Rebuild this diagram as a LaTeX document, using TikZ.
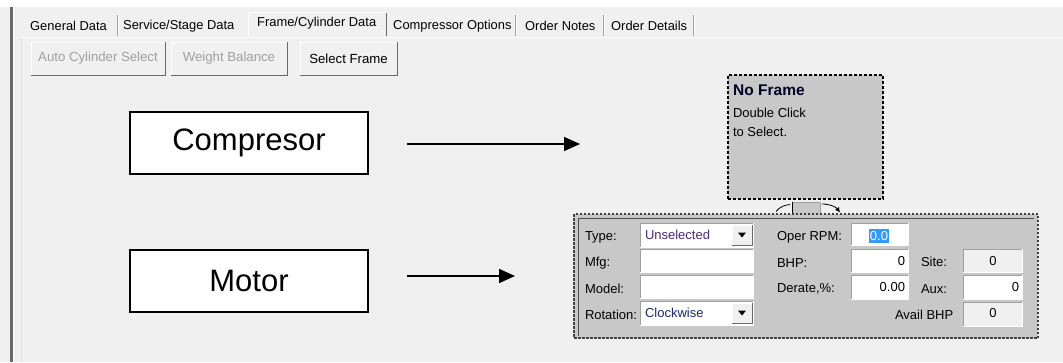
\documentclass[tikz,border=0pt]{standalone}
\usepackage{fontspec}
\setmainfont{Liberation Sans}
\usetikzlibrary{arrows.meta}
\definecolor{bg}{HTML}{F0F0F0}
\definecolor{panelc}{HTML}{C8C8C8}
\definecolor{shadec}{HTML}{A0A0A0}
\definecolor{dkshade}{HTML}{696969}
\definecolor{hilite}{HTML}{3399FF}
\definecolor{distext}{HTML}{A0A0A0}
\definecolor{selpurple}{HTML}{4A2A7A}
\definecolor{selnavy}{HTML}{1A2A6A}
\newcommand\sunk[1]{\draw[shadec] (#1.south west) |- (#1.north east); \draw[white] (#1.south west) -| (#1.north east);}
\newcommand\rais[1]{\draw[white] (#1.south west) |- (#1.north east); \draw[dkshade] (#1.south west) -| (#1.north east);}
\tikzset{
  ui/.style={font=\fontsize{13}{15}\selectfont, inner sep=0pt, outer sep=0pt},
  uil/.style={ui, anchor=west},
  uir/.style={ui, anchor=east},
  tabtxt/.style={font=\fontsize{12.9}{15}\selectfont, inner sep=0pt, anchor=west},
  btnbox/.style={fill=bg, inner sep=0pt, outer sep=0pt, font=\fontsize{13.2}{15}\selectfont},
  bigbox/.style={draw=black, line width=2pt, fill=white, minimum width=238pt, minimum height=62pt, inner sep=0pt, font=\fontsize{31}{36}\selectfont},
  arr/.style={line width=1.6pt, -{Triangle[length=16pt,width=14pt]}},
  field/.style={fill=white, inner sep=0pt, outer sep=0pt},
  rofield/.style={fill=bg, inner sep=0pt, outer sep=0pt},
  dropbtn/.style={fill=bg, inner sep=0pt, outer sep=0pt, minimum width=20pt, minimum height=20pt},
}
\begin{document}
\begin{tikzpicture}[x=1pt,y=-1pt]
\useasboundingbox (0,0) rectangle (1063,362);
\fill[white] (0,0) rectangle (1063,362);
\fill[bg] (0,7) rectangle (1063,362);
% left border
\fill[dkshade] (10,7) rectangle (12.5,362);
\draw[white] (13.5,7) -- (13.5,362);
\draw[black!12] (21,37) -- (21,362);
\draw[white, line width=1pt] (21,37.5) -- (1063,37.5);
% tabs
\draw[white] (248,37) -- (248,12.5) -- (386,12.5);
\draw[dkshade] (386.5,13) -- (386.5,36);
\node[tabtxt] (t1) at (30,26) {General Data};
\node[tabtxt] (t2) at (123,26) {Service/Stage Data};
\node[tabtxt] (t3) at (257,23) {Frame/Cylinder Data};
\node[tabtxt] (t4) at (393,26) {Compressor Options};
\node[tabtxt] (t5) at (525,26) {Order Notes};
\node[tabtxt] (t6) at (611,26) {Order Details};
\foreach \sx in {117,515,603,693}{
  \draw[shadec] (\sx,15) -- (\sx,36);
  \draw[white] (\sx+1,15) -- (\sx+1,36);
}
% buttons
\node[btnbox, minimum width=134pt, minimum height=33pt, text=distext] (b1) at (98,58.5) {Auto Cylinder Select};
\rais{b1}
\node[btnbox, minimum width=116pt, minimum height=33pt, text=distext] (b2) at (229,58.5) {Weight Balance};
\rais{b2}
\node[btnbox, minimum width=97pt, minimum height=33pt] (b3) at (348.5,58.5) {Select Frame};
\rais{b3}
% labels and arrows
\node[bigbox] (comp) at (249,143) {Compresor};
\node[bigbox] (mot) at (249,280.5) {Motor};
\coordinate (a1s) at (407,144);
\coordinate (a1e) at (580,144);
\coordinate (a2s) at (407,276);
\coordinate (a2e) at (515,276);
\draw[arr] (a1s) -- (a1e);
\draw[arr] (a2s) -- (a2e);
% No Frame box
\node[fill=panelc, draw=black, line width=1.3pt, dash pattern=on 3pt off 2pt, minimum width=155pt, minimum height=124pt, inner sep=0pt] (nf) at (805.5,137) {};
\node[anchor=west, inner sep=0pt, font=\fontsize{15.5}{18}\selectfont\bfseries, text=black!85!blue] (nft) at (733,90) {No Frame};
\node[uil] (nfd1) at (733,113) {Double Click};
\node[uil] (nfd2) at (733,132) {to Select.};
% connector piece
\node[fill=panelc, draw=shadec, minimum width=28pt, minimum height=13pt, inner sep=0pt] (conn) at (806,208.5) {};
\draw[black, line width=1pt] (792,201.5) -- (792,218);
\coordinate (cl1) at (776,211.5);
\coordinate (cl2) at (790,204.5);
\coordinate (cr1) at (822,204);
\coordinate (cr2) at (840,212.5);
\draw[line width=0.8pt] (cl1) .. controls (780,206.5) and (785,205) .. (cl2);
\draw[line width=0.8pt, -{Latex[length=5pt,width=5pt]}] (cr1) .. controls (830,204) and (836,207) .. (cr2);
% motor panel
\node[fill=panelc, draw=black!75, line width=1.2pt, dash pattern=on 2.5pt off 1.5pt, minimum width=464pt, minimum height=124pt, inner sep=0pt] (pan) at (806,276) {};
\draw[black!70, line width=1pt] (578,336) -- (578,218) -- (1034,218);
% left column labels
\node[uil] (lt) at (585,237) {Type:};
\node[uil] (lm) at (585,263) {Mfg:};
\node[uil] (lmo) at (585,289) {Model:};
\node[uil] (lr) at (585,315) {Rotation:};
% left column fields
\node[field, minimum width=113pt, minimum height=24pt] (ftype) at (696.5,235) {};
\sunk{ftype}
\node[dropbtn] (dtype) at (742,235) {};
\rais{dtype}
\fill (738,232.5) -- (746,232.5) -- (742,237.5) -- cycle;
\node[uil, text=selpurple] (vtype) at (645,235) {Unselected};
\node[field, minimum width=113pt, minimum height=23pt] (fmfg) at (696.5,260.5) {};
\sunk{fmfg}
\node[field, minimum width=113pt, minimum height=23pt] (fmod) at (696.5,286.5) {};
\sunk{fmod}
\node[field, minimum width=113pt, minimum height=24pt] (frot) at (696.5,313) {};
\sunk{frot}
\node[dropbtn] (drot) at (742,313) {};
\rais{drot}
\fill (738,310.5) -- (746,310.5) -- (742,315.5) -- cycle;
\node[uil, text=selnavy] (vrot) at (645,313) {Clockwise};
% middle column
\node[uil] (lrpm) at (777,237) {Oper RPM:};
\node[uil] (lbhp) at (777,263) {BHP:};
\node[uil] (lder) at (777,289) {Derate,\%:};
\node[field, minimum width=57pt, minimum height=22pt] (frpm) at (879.5,234) {};
\sunk{frpm}
\fill[hilite] (869,229) rectangle (889,243);
\node[ui, text=white] (vrpm) at (879,236) {0.0};
\node[field, minimum width=57pt, minimum height=23pt] (fbhp) at (879.5,260.5) {};
\sunk{fbhp}
\node[uir] (vbhp) at (905,261) {0};
\node[field, minimum width=57pt, minimum height=24pt] (fder) at (879.5,287) {};
\sunk{fder}
\node[uir] (vder) at (905,287) {0.00};
% right column
\node[uil] (lsite) at (921,262) {Site:};
\node[uil] (laux) at (921,289) {Aux:};
\node[uil] (lavail) at (895,315) {Avail BHP};
\node[rofield, minimum width=59pt, minimum height=23pt] (fsite) at (992.5,260.5) {};
\sunk{fsite}
\node[ui] (vsite) at (993,261) {0};
\node[field, minimum width=59pt, minimum height=24pt] (faux) at (992.5,287) {};
\sunk{faux}
\node[uir] (vaux) at (1019,287) {0};
\node[rofield, minimum width=59pt, minimum height=24pt] (favail) at (992.5,314) {};
\sunk{favail}
\node[ui] (vavail) at (993,313) {0};
\end{tikzpicture}
\end{document}
